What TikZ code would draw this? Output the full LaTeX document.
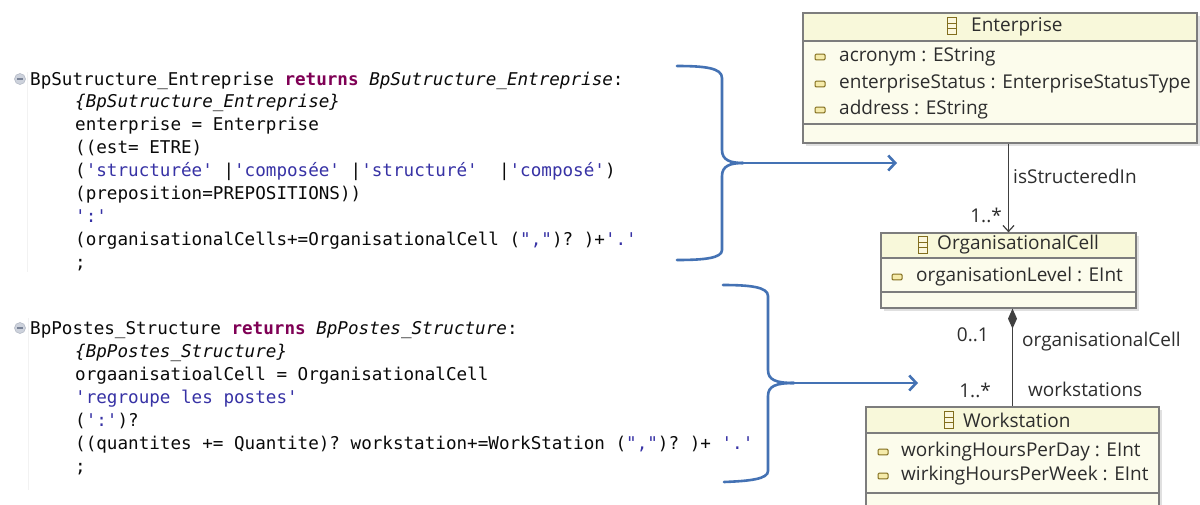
\documentclass[tikz,border=0pt]{standalone}
\usepackage{fontspec}
\setmonofont{DejaVu Sans Mono}
\newfontfamily\umlfont{Open Sans}
\usetikzlibrary{arrows.meta}
\definecolor{kw}{RGB}{127,0,85}
\definecolor{strc}{RGB}{55,50,165}
\definecolor{codec}{RGB}{10,10,10}
\definecolor{brc}{RGB}{68,114,180}
\definecolor{umlb}{RGB}{125,125,125}
\definecolor{hdr}{RGB}{248,248,218}
\definecolor{bdy}{RGB}{252,252,236}
\definecolor{iconc}{RGB}{130,110,30}
\definecolor{iconf}{RGB}{245,235,170}
\definecolor{umltxt}{RGB}{45,45,45}
\definecolor{foldf}{RGB}{205,210,220}
\definecolor{foldd}{RGB}{120,130,150}
\newcommand{\str}[1]{\textcolor{strc}{#1}}
\newcommand{\kwd}[1]{\textcolor{kw}{\bfseries #1}}
\tikzset{
  code/.style={anchor=base west, inner sep=0pt, font=\ttfamily\fontsize{17.6}{20}\selectfont, text=codec},
  uml/.style={inner sep=0pt, font=\umlfont\fontsize{19}{22}\selectfont, text=umltxt},
  umlbox/.style={draw=umlb, line width=1.3pt, fill=bdy, inner sep=0pt},
  shadowbox/.style={fill=black!12, draw=none},
  hdrfill/.style={fill=hdr, draw=none},
  sep/.style={draw=umlb, line width=1.1pt},
  brace/.style={draw=brc, line width=2.6pt, line cap=round},
  bluearrow/.style={draw=brc, line width=2.6pt, -{Straight Barb[length=7pt,width=15pt]}},
  assoc/.style={draw=black!75, line width=1.2pt},
  foldicon/.style={circle, fill=foldf, draw=foldd!60, line width=0.5pt, minimum size=11pt, inner sep=0pt},
}
\newcommand{\classicon}[2]{%
  \draw[iconc, line width=1.3pt, fill=iconf!40] (#1-4.5,#2-8.5) rectangle (#1+4.5,#2+8.5);
  \draw[iconc, line width=1.3pt] (#1-4.5,#2-2.8) -- (#1+4.5,#2-2.8) (#1-4.5,#2+2.8) -- (#1+4.5,#2+2.8);}
\newcommand{\attricon}[2]{%
  \draw[iconc, line width=1pt, fill=iconf, rounded corners=1pt] (#1-5,#2-2.8) rectangle (#1+5,#2+2.8);}
\begin{document}
\begin{tikzpicture}[x=1pt,y=-1pt]
\useasboundingbox (0,0) rectangle (1200,504);
\clip (0,0) rectangle (1200,504);
\fill[white] (0,0) rectangle (1200,504);

% faint editor rulers
\draw[black!5, line width=1pt] (27,72) -- (27,272);
\draw[black!5, line width=1pt] (28,318) -- (28,490);

% ---------- code block 1 ----------
\node[foldicon] (f1) at (20,79) {};
\draw[foldd, line width=1.3pt] ([xshift=-3pt]f1.center) -- ([xshift=3pt]f1.center);
\node[code] (a1) at (30,85) {BpSutructure\_Entreprise \kwd{returns} \textit{BpSutructure\_Entreprise}:};
\node[code] (a2) at (75,107.9) {\textit{\{BpSutructure\_Entreprise\}}};
\node[code] (a3) at (75,130.8) {enterprise = Enterprise};
\node[code] (a4) at (75,153.7) {((est= ETRE)};
\node[code] (a5) at (75,176.6) {(\str{'structurée'} |\str{'composée'} |\str{'structuré'}~~|\str{'composé'})};
\node[code] (a6) at (75,199.5) {(preposition=PREPOSITIONS))};
\node[code] (a7) at (75,222.4) {\str{':'}};
\node[code] (a8) at (75,245.3) {(organisationalCells+=OrganisationalCell (\str{","})? )+\str{'.'}};
\node[code] (a9) at (75,268.2) {;};

% ---------- code block 2 ----------
\node[foldicon] (f2) at (20,328) {};
\draw[foldd, line width=1.3pt] ([xshift=-3pt]f2.center) -- ([xshift=3pt]f2.center);
\node[code] (b1) at (30,334) {BpPostes\_Structure \kwd{returns} \textit{BpPostes\_Structure}:};
\node[code] (b2) at (75,357) {\textit{\{BpPostes\_Structure\}}};
\node[code] (b3) at (75,380) {orgaanisatioalCell = OrganisationalCell};
\node[code] (b4) at (75,403) {\str{'regroupe les postes'}};
\node[code] (b5) at (75,426) {(\str{':'})?};
\node[code] (b6) at (75,449) {((quantites += Quantite)? workstation+=WorkStation (\str{","})? )+ \str{'.'}};
\node[code] (b7) at (75,472) {;};

% ---------- braces and arrows ----------
\coordinate (t1) at (743,163);
\coordinate (e1) at (897,163);
\draw[brace] (677,66) .. controls (705,66) and (722,68) .. (722,78) -- (722,150)
  .. controls (722,160) and (730,163) .. (t1);
\draw[brace] (t1) .. controls (730,163) and (722,166) .. (722,176) -- (722,250)
  .. controls (722,258) and (705,260) .. (677,260);
\draw[bluearrow] (t1) -- (e1);

\coordinate (t2) at (794,383);
\coordinate (e2) at (918,383);
\draw[brace] (723,285) .. controls (750,285) and (768,287) .. (768,296) -- (768,370)
  .. controls (768,380) and (776,383) .. (t2);
\draw[brace] (t2) .. controls (776,383) and (768,386) .. (768,396) -- (768,471)
  .. controls (768,479) and (750,481) .. (724,482);
\draw[bluearrow] (t2) -- (e2);

% ---------- UML: Enterprise ----------
\fill[shadowbox] (806,16) rectangle (1200,146);
\node[umlbox, minimum width=394pt, minimum height=130pt] (ent) at (1000,78) {};
\fill[hdrfill] (803.7,13.7) rectangle (1196.3,41);
\draw[sep] (803,41) -- (1197,41);
\draw[sep] (803,124) -- (1197,124);
\draw[umlb, line width=1.3pt] (803,13) rectangle (1197,143);
\classicon{952}{26}
\node[uml, anchor=west] (entn) at (971,27) {Enterprise};
\attricon{820}{57}
\node[uml, anchor=west] (ea1) at (839,57) {acronym : EString};
\attricon{820}{84}
\node[uml, anchor=west] (ea2) at (839,84) {enterpriseStatus : EnterpriseStatusType};
\attricon{820}{110}
\node[uml, anchor=west] (ea3) at (839,110) {address : EString};

% ---------- UML: OrganisationalCell ----------
\fill[shadowbox] (884,236) rectangle (1139,311);
\node[umlbox, minimum width=255pt, minimum height=75pt] (org) at (1008.5,270.5) {};
\fill[hdrfill] (881.7,233.7) rectangle (1135.3,258);
\draw[sep] (881,258) -- (1136,258);
\draw[sep] (881,292) -- (1136,292);
\draw[umlb, line width=1.3pt] (881,233) rectangle (1136,308);
\classicon{923}{245}
\node[uml, anchor=west] (orgn) at (937,245) {OrganisationalCell};
\attricon{897}{277}
\node[uml, anchor=west] (oa1) at (916,277) {organisationLevel : EInt};

% ---------- UML: Workstation ----------
\fill[shadowbox] (869,410) rectangle (1162,530);
\node[umlbox, minimum width=293pt, minimum height=120pt] (ws) at (1012.5,467) {};
\fill[hdrfill] (866.7,407.7) rectangle (1158.3,433);
\draw[sep] (866,433) -- (1159,433);
\draw[sep] (866,493) -- (1159,493);
\draw[umlb, line width=1.3pt] (866,407) rectangle (1159,527);
\classicon{949}{420}
\node[uml, anchor=west] (wsn) at (963,420) {Workstation};
\attricon{883}{452}
\node[uml, anchor=west] (wa1) at (901,452) {workingHoursPerDay : EInt};
\attricon{883}{476}
\node[uml, anchor=west] (wa2) at (901,476) {wirkingHoursPerWeek : EInt};

% ---------- associations ----------
\draw[assoc, -{Straight Barb[length=6pt,width=11pt]}] (ent.south -| org.north) -- (org.north);
\node[uml, anchor=west] (l1) at (1013,176) {isStructeredIn};
\node[uml, anchor=east] (m1) at (1002,215) {1..*};

\draw[assoc, {Diamond[length=20pt,width=9pt]}-] (org.south -| ws.north) -- (ws.north);
\node[uml, anchor=west] (l2) at (1022,342) {organisationalCell};
\node[uml, anchor=east] (m2) at (989,335) {0..1};
\node[uml, anchor=west] (l3) at (1028,389) {workstations};
\node[uml, anchor=east] (m3) at (991,390) {1..*};
\end{tikzpicture}
\end{document}
